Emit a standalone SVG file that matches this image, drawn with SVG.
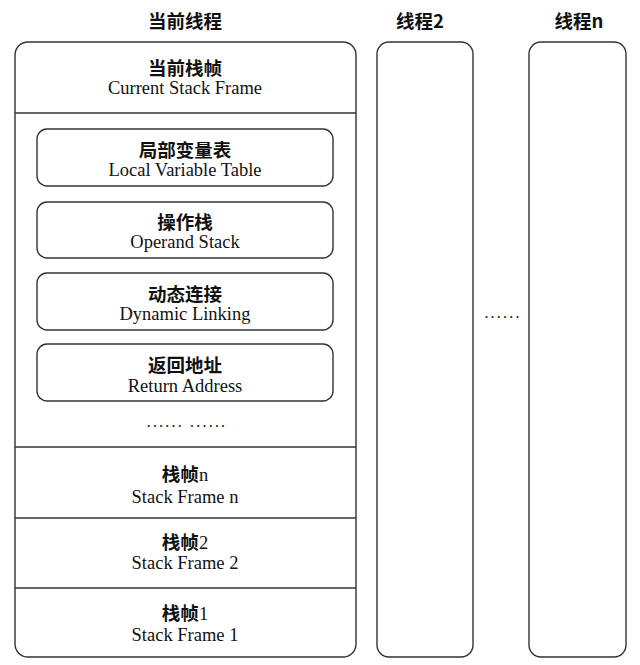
<svg xmlns="http://www.w3.org/2000/svg" width="640" height="665" viewBox="0 0 640 665">
<style>
.box{fill:#fff;stroke:#333;stroke-width:1.4}
.line{stroke:#333;stroke-width:1.4;fill:none}
.cn{font-family:"Noto Sans CJK SC","Noto Sans CJK JP",sans-serif;font-weight:bold;font-size:18.5px;fill:#111;text-anchor:middle}
.en{font-family:"Liberation Serif","Times New Roman",serif;font-size:18.5px;fill:#111;text-anchor:middle}
.num{font-family:"Liberation Serif","Times New Roman",serif;font-weight:normal;font-size:18.5px}
.dots{font-family:"Liberation Serif",serif;font-size:16px;letter-spacing:2.2px;fill:#111;text-anchor:middle}
</style>
<rect width="640" height="665" fill="#fff"/>
<g id="thread-current">
  <text class="cn" x="185" y="28">当前线程</text>
  <rect class="box" x="15" y="42" width="341" height="615" rx="13"/>
  <line class="line" x1="15" y1="113" x2="356" y2="113"/>
  <line class="line" x1="15" y1="447" x2="356" y2="447"/>
  <line class="line" x1="15" y1="518" x2="356" y2="518"/>
  <line class="line" x1="15" y1="588" x2="356" y2="588"/>
</g>
<g id="current-frame">
  <text class="cn" x="185" y="75">当前栈帧</text>
  <text class="en" x="185" y="94">Current Stack Frame</text>
</g>
<g id="local-variable-table">
  <rect class="box" x="37" y="129" width="296" height="57" rx="10"/>
  <text class="cn" x="185" y="157">局部变量表</text>
  <text class="en" x="185" y="176">Local Variable Table</text>
</g>
<g id="operand-stack">
  <rect class="box" x="37" y="202" width="296" height="56" rx="10"/>
  <text class="cn" x="185" y="229">操作栈</text>
  <text class="en" x="185" y="248">Operand Stack</text>
</g>
<g id="dynamic-linking">
  <rect class="box" x="37" y="273" width="296" height="57" rx="10"/>
  <text class="cn" x="185" y="301">动态连接</text>
  <text class="en" x="185" y="320">Dynamic Linking</text>
</g>
<g id="return-address">
  <rect class="box" x="37" y="344" width="296" height="57" rx="10"/>
  <text class="cn" x="185" y="372">返回地址</text>
  <text class="en" x="185" y="392">Return Address</text>
</g>
<g id="frame-dots">
  <text class="dots" x="187" y="427">...... ......</text>
</g>
<g id="stack-frame-n">
  <text class="cn" x="185" y="481">栈帧<tspan class="num">n</tspan></text>
  <text class="en" x="185" y="503">Stack Frame n</text>
</g>
<g id="stack-frame-2">
  <text class="cn" x="185" y="549">栈帧<tspan class="num">2</tspan></text>
  <text class="en" x="185" y="569">Stack Frame 2</text>
</g>
<g id="stack-frame-1">
  <text class="cn" x="185" y="620">栈帧<tspan class="num">1</tspan></text>
  <text class="en" x="185" y="641">Stack Frame 1</text>
</g>
<g id="thread-2">
  <text class="cn" x="420" y="28">线程2</text>
  <rect class="box" x="377" y="42" width="96" height="615" rx="12"/>
</g>
<g id="thread-dots">
  <text class="dots" x="503" y="318">......</text>
</g>
<g id="thread-n">
  <text class="cn" x="579" y="28">线程n</text>
  <rect class="box" x="529" y="42" width="97" height="615" rx="12"/>
</g>
<g id="connectors"></g>
</svg>
